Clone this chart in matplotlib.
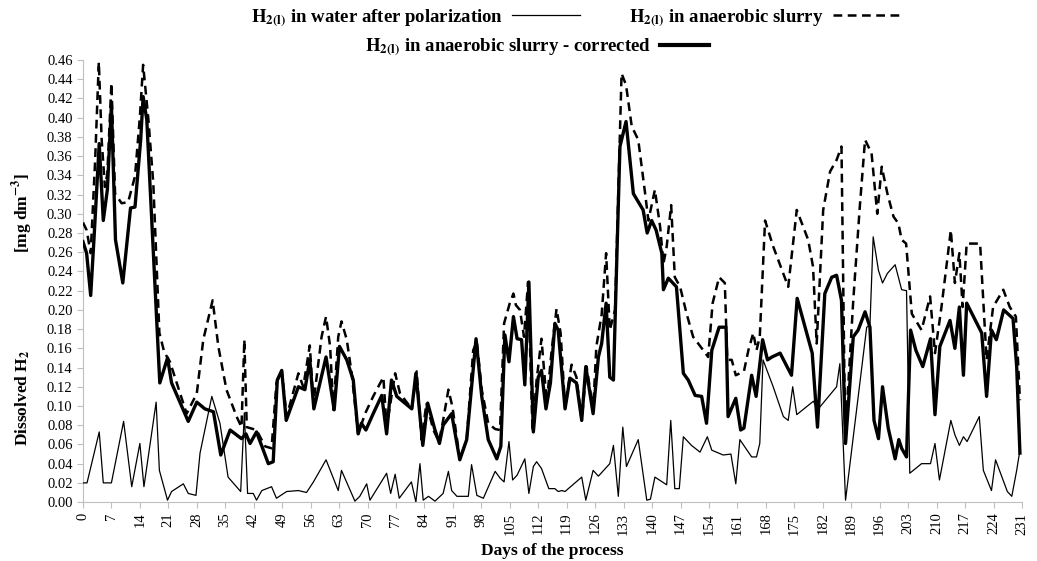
import matplotlib
matplotlib.use("Agg")
import matplotlib.pyplot as plt
from matplotlib.lines import Line2D
import numpy as np

plt.rcParams['font.family'] = ['Liberation Serif', 'DejaVu Serif']
plt.rcParams['mathtext.fontset'] = 'stix'

# H2(l) in water after polarization (day, mg dm-3)
water_days = [0, 1, 4, 5, 7, 10, 12, 14, 15, 18, 18.8, 20.8, 21.8, 24.7, 25.9, 27.8, 28.8,
              31.7, 33.7, 35.7, 38.8, 39.7, 40.5, 41.9, 42.7, 44, 46.4, 47.6, 50.1, 53, 55,
              56.7, 59.8, 62.8, 63.6, 66.9, 68.1, 69.8, 70.6, 74.7, 75.7, 76.8, 77.8, 80.8,
              81.9, 82.9, 83.7, 85, 86.6, 88.6, 89.9, 90.7, 92, 94.8, 95.6, 96.9, 98.5,
              101.4, 102.6, 103.6, 104.8, 105.7, 106.8, 108.7, 109.7, 110.8, 111.6, 112.8,
              114.6, 116.1, 116.9, 117.8, 118.6, 119.4, 122.7, 123.7, 125.5, 126.8, 129.6,
              130.5, 131.7, 132.8, 133.7, 136.6, 138.7, 139.6, 140.7, 143.6, 144.6, 145.6,
              146.7, 147.7, 149.7, 151.8, 153.6, 154.7, 157.5, 159.4, 160.6, 161.6, 164.5,
              165.7, 166.5, 167.3, 169.8, 172.3, 173.5, 174.6, 175.6, 179.7, 180.7, 185.4,
              186.2, 187.6, 192.8, 193.6, 194.4, 195.7, 196.7, 197.9, 199.8, 201.4, 202.6,
              203.4, 206.3, 208.5, 209.6, 210.7, 213.5, 214.5, 215.6, 216.6, 217.5, 220.5,
              221.5, 223.5, 224.5, 227.4, 228.5, 229.7, 230.5]
water_vals = [0.020, 0.020, 0.073, 0.020, 0.020, 0.084, 0.016, 0.061, 0.016, 0.104, 0.033,
              0.002, 0.011, 0.019, 0.009, 0.007, 0.051, 0.110, 0.082, 0.026, 0.011, 0.093,
              0.009, 0.009, 0.002, 0.012, 0.016, 0.004, 0.011, 0.012, 0.010, 0.021, 0.044,
              0.012, 0.033, 0.001, 0.006, 0.019, 0.002, 0.030, 0.009, 0.029, 0.004, 0.021,
              0.000, 0.040, 0.002, 0.006, 0.001, 0.009, 0.032, 0.012, 0.006, 0.006, 0.039,
              0.007, 0.004, 0.032, 0.025, 0.021, 0.063, 0.023, 0.028, 0.045, 0.009, 0.037,
              0.042, 0.035, 0.014, 0.014, 0.011, 0.012, 0.011, 0.014, 0.026, 0.002, 0.033,
              0.027, 0.040, 0.059, 0.006, 0.078, 0.037, 0.065, 0.002, 0.003, 0.026, 0.018,
              0.085, 0.014, 0.014, 0.068, 0.059, 0.052, 0.068, 0.054, 0.049, 0.050, 0.019,
              0.065, 0.047, 0.047, 0.061, 0.148, 0.120, 0.089, 0.085, 0.120, 0.091, 0.105,
              0.096, 0.120, 0.144, 0.002, 0.182, 0.184, 0.276, 0.241, 0.228, 0.238, 0.247,
              0.221, 0.220, 0.030, 0.040, 0.040, 0.061, 0.023, 0.085, 0.070, 0.059, 0.068,
              0.063, 0.089, 0.033, 0.012, 0.044, 0.011, 0.006, 0.033, 0.054]

# H2(l) in anaerobic slurry
slurry_days = [0, 0.9, 1.9, 3, 3.9, 4.6, 5.4, 6, 7, 7.9, 9.5, 11.1, 12.8, 14, 14.8, 16.1,
               17.3, 18.8, 20, 21.4, 23.9, 25.5, 28, 29.6, 31.9, 33.3, 35.3, 37.8, 39,
               39.7, 40.3, 42.7, 44.8, 46.4, 47.6, 48.9, 50.1, 53, 54.2, 55.8, 56.7, 58.7,
               59.8, 60.8, 61.6, 62.8, 63.6, 64.9, 66.1, 67.7, 69.4, 71.4, 73.9, 74.7, 76.8,
               78, 80.9, 82.1, 83.3, 84.5, 86.2, 87.6, 88.6, 89.9, 90.9, 92.7, 94.4, 96,
               96.9, 98.1, 99.7, 101.4, 102.6, 103.6, 105, 105.9, 106.5, 107.5, 108.5,
               109.5, 110.6, 111.6, 112.8, 114.1, 115.3, 116.5, 117.5, 118.6, 120.2, 121.4,
               122.7, 123.9, 125.5, 126.3, 127.6, 128.7, 129.6, 130.9, 132.5, 133.6, 135,
               136.6, 138.3, 139.1, 140.7, 142, 142.8, 143.6, 144.7, 145.6, 146.9, 148.5,
               150.1, 152.6, 153.8, 154.9, 156.5, 157.9, 158.5, 159.6, 160.6, 162.6, 163.7,
               164.9, 165.7, 166.5, 167.8, 169.8, 173.5, 175.6, 178.4, 179.6, 180.5, 182.1,
               183.8, 185.4, 186.6, 187.5, 188.3, 189.5, 191.1, 192.4, 194, 195.4, 196.5,
               197.9, 199.4, 200.6, 201.4, 202.5, 203.9, 206.3, 208.4, 209.6, 211.2, 213.5,
               214.5, 215.6, 216.4, 217.4, 220.7, 222.3, 223.9, 226.4, 228, 229.5, 230.5]
slurry_vals = [0.291, 0.283, 0.259, 0.356, 0.458, 0.377, 0.328, 0.342, 0.436, 0.321, 0.311,
               0.312, 0.339, 0.401, 0.455, 0.398, 0.332, 0.176, 0.156, 0.146, 0.113, 0.092,
               0.113, 0.169, 0.210, 0.162, 0.117, 0.089, 0.078, 0.169, 0.078, 0.075, 0.058,
               0.056, 0.124, 0.137, 0.089, 0.134, 0.120, 0.163, 0.103, 0.172, 0.193, 0.162,
               0.096, 0.172, 0.188, 0.169, 0.134, 0.071, 0.092, 0.110, 0.130, 0.078, 0.134,
               0.113, 0.097, 0.136, 0.065, 0.103, 0.075, 0.063, 0.085, 0.117, 0.099, 0.045,
               0.065, 0.158, 0.167, 0.117, 0.082, 0.076, 0.075, 0.186, 0.207, 0.217, 0.205,
               0.200, 0.172, 0.229, 0.073, 0.127, 0.170, 0.103, 0.158, 0.201, 0.176, 0.099,
               0.143, 0.130, 0.085, 0.141, 0.096, 0.162, 0.195, 0.259, 0.179, 0.200, 0.446,
               0.434, 0.391, 0.377, 0.321, 0.293, 0.325, 0.286, 0.248, 0.266, 0.309, 0.234,
               0.224, 0.196, 0.172, 0.158, 0.151, 0.207, 0.234, 0.228, 0.148, 0.148, 0.132,
               0.136, 0.158, 0.176, 0.158, 0.172, 0.293, 0.266, 0.224, 0.304, 0.273, 0.245,
               0.165, 0.304, 0.344, 0.356, 0.370, 0.071, 0.124, 0.210, 0.307, 0.377, 0.363,
               0.300, 0.349, 0.321, 0.297, 0.290, 0.273, 0.269, 0.196, 0.179, 0.214, 0.155,
               0.203, 0.283, 0.228, 0.259, 0.203, 0.269, 0.269, 0.148, 0.203, 0.221, 0.203,
               0.193, 0.106]

# H2(l) in anaerobic slurry - corrected
corr_days = [0, 0.9, 1.9, 2.7, 4, 5, 6, 7, 8, 9.8, 11.7, 12.8, 14.2, 14.8, 15.7, 18.9, 20.8,
             21.8, 25.9, 28, 30, 32.1, 33.9, 36.2, 39, 40.1, 41.1, 42.7, 45.6, 46.8, 47.8,
             48.9, 50, 53, 54.6, 55.8, 56.8, 59.8, 61.8, 63.1, 64.9, 66.5, 67.7, 68.5, 69.6,
             71.4, 73.5, 74.7, 75.9, 77.2, 80.9, 81.9, 83.6, 84.8, 86.6, 87.7, 88.6, 90.7,
             92.7, 94.4, 96.7, 98.1, 99.7, 101.8, 102.8, 103.8, 104.8, 105.9, 106.8, 107.9,
             108.7, 109.7, 110.8, 112, 112.8, 113.9, 115, 116.1, 116.9, 118.6, 119.8, 121.4,
             122.7, 123.7, 125.5, 126.8, 127.6, 128.7, 129.6, 130.5, 132.1, 133.6, 135.4,
             137.8, 138.8, 139.9, 141, 142.4, 142.8, 144, 146, 147.7, 148.9, 150.6, 152.2,
             153.4, 154.7, 156.5, 158.2, 158.7, 160.6, 161.8, 162.6, 164.5, 165.6, 167.2,
             168.4, 169.5, 171.5, 174.3, 175.7, 179.4, 180.7, 182.5, 184.2, 185.4, 186.6,
             187.6, 189.5, 190.7, 192.4, 193.6, 194.6, 195.7, 196.7, 198.1, 199.8, 200.7,
             201.4, 202.6, 203.6, 204.9, 206.6, 208.5, 209.6, 210.8, 213.3, 214.5, 215.6,
             216.6, 217.4, 221.1, 222.3, 223.5, 224.7, 226.5, 228.8, 229.7, 230.5]
corr_vals = [0.271, 0.259, 0.215, 0.273, 0.373, 0.293, 0.325, 0.413, 0.273, 0.228, 0.306,
             0.307, 0.377, 0.422, 0.398, 0.124, 0.150, 0.124, 0.084, 0.104, 0.097, 0.094,
             0.049, 0.075, 0.066, 0.071, 0.061, 0.073, 0.040, 0.042, 0.127, 0.137, 0.085,
             0.120, 0.117, 0.148, 0.097, 0.151, 0.096, 0.162, 0.148, 0.127, 0.071, 0.082,
             0.075, 0.092, 0.111, 0.071, 0.127, 0.110, 0.097, 0.134, 0.059, 0.103, 0.075,
             0.061, 0.080, 0.092, 0.044, 0.065, 0.170, 0.110, 0.065, 0.045, 0.058, 0.174,
             0.146, 0.193, 0.170, 0.169, 0.122, 0.229, 0.073, 0.130, 0.137, 0.097, 0.124,
             0.186, 0.179, 0.097, 0.129, 0.124, 0.085, 0.141, 0.092, 0.151, 0.165, 0.207,
             0.130, 0.127, 0.370, 0.396, 0.321, 0.304, 0.280, 0.293, 0.283, 0.259, 0.221,
             0.233, 0.224, 0.134, 0.127, 0.111, 0.110, 0.082, 0.158, 0.182, 0.182, 0.089,
             0.108, 0.075, 0.077, 0.132, 0.110, 0.169, 0.148, 0.151, 0.155, 0.132, 0.212,
             0.155, 0.078, 0.217, 0.234, 0.236, 0.210, 0.061, 0.172, 0.179, 0.198, 0.182,
             0.085, 0.066, 0.120, 0.077, 0.045, 0.065, 0.056, 0.047, 0.179, 0.158, 0.141,
             0.170, 0.091, 0.162, 0.189, 0.160, 0.203, 0.132, 0.207, 0.176, 0.110, 0.179,
             0.169, 0.200, 0.191, 0.141, 0.051]

x_ticks = list(range(0, 232, 7))
y_ticks = np.arange(0, 0.461, 0.02)

fig = plt.figure(figsize=(10.37, 5.61), dpi=100)
ax = fig.add_axes([0.080, 0.105, 0.9055, 0.788])

ax.plot(water_days, water_vals, color='black', linewidth=0.9, zorder=3)
ax.plot(slurry_days, slurry_vals, color='black', linewidth=1.8, linestyle=(0, (3.5, 2.2)), zorder=4)
ax.plot(corr_days, corr_vals, color='black', linewidth=2.4, zorder=5)

ax.set_xlim(0, 231)
ax.set_ylim(0, 0.46)
ax.set_xticks(x_ticks)
ax.set_xticklabels([str(t) for t in x_ticks], rotation=90, fontsize=10.5)
ax.set_yticks(y_ticks)
ax.set_yticklabels([f"{v:.2f}" for v in y_ticks], fontsize=10.5)
for s in ['top', 'right']:
    ax.spines[s].set_visible(False)
for s in ['left', 'bottom']:
    ax.spines[s].set_color('#bfbfbf')
ax.tick_params(axis='both', colors='#bfbfbf', labelcolor='black', length=4, width=0.8)

ax.set_xlabel('Days of the process', fontsize=12.5, fontweight='bold', labelpad=6)
# y label in two pieces, spaced apart like the original
fig.text(0.022, 0.29, r'Dissolved H$_\mathbf{2}$', rotation=90, ha='center', va='center',
         fontsize=12.5, fontweight='bold')
fig.text(0.022, 0.62, r'[mg dm$^\mathbf{-3}$]', rotation=90, ha='center', va='center',
         fontsize=12.5, fontweight='bold')

lbl_w = r'$\mathbf{H_{2(l)}}$ in water after polarization'
lbl_s = r'$\mathbf{H_{2(l)}}$ in anaerobic slurry'
lbl_c = r'$\mathbf{H_{2(l)}}$ in anaerobic slurry - corrected'
h_w = Line2D([], [], color='black', linewidth=0.9)
h_s = Line2D([], [], color='black', linewidth=1.8, linestyle=(0, (3.5, 2.2)))
h_c = Line2D([], [], color='black', linewidth=3.0)

leg_font = {'size': 13.5, 'weight': 'bold'}
fig.legend([h_w, h_s], [lbl_w, lbl_s], loc='center', bbox_to_anchor=(0.555, 0.968),
           ncol=2, frameon=False, markerfirst=False, prop=leg_font,
           handlelength=3.6, columnspacing=2.6, handletextpad=0.5)
fig.legend([h_c], [lbl_c], loc='center', bbox_to_anchor=(0.518, 0.915),
           frameon=False, markerfirst=False, prop=leg_font,
           handlelength=2.6, handletextpad=0.5)

fig.savefig('out.png', dpi=100)
